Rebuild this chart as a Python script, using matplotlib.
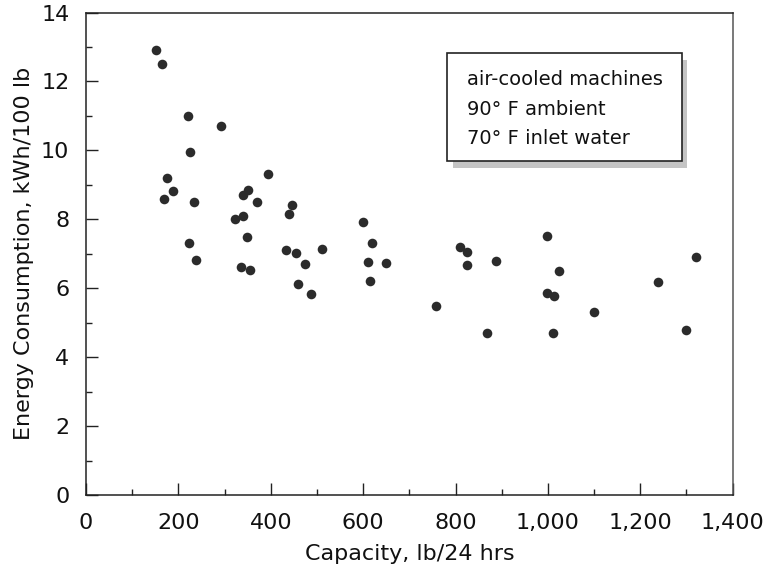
import matplotlib
matplotlib.use("Agg")
import matplotlib.pyplot as plt
from matplotlib.patches import Rectangle
from matplotlib.ticker import MultipleLocator

plt.rcParams['font.family'] = ['DejaVu Sans']

# capacity (lb/24 hrs) and energy use (kWh/100 lb)
capacity = [151, 164, 221, 292, 226, 175, 189, 169, 234, 394,
            339, 350, 371, 323, 339, 446, 439, 349, 224, 239,
            335, 354, 434, 454, 475, 511, 459, 487, 599, 619,
            610, 649, 614, 757, 809, 824, 825, 888, 869, 999,
            1024, 998, 1013, 1010, 1099, 1239, 1320, 1300]
energy = [12.9, 12.5, 11.0, 10.7, 9.95, 9.2, 8.82, 8.6, 8.51, 9.33,
          8.7, 8.84, 8.51, 8.0, 8.11, 8.41, 8.16, 7.5, 7.31, 6.81,
          6.61, 6.52, 7.1, 7.01, 6.71, 7.13, 6.11, 5.83, 7.93, 7.31,
          6.77, 6.72, 6.21, 5.5, 7.2, 7.04, 6.67, 6.78, 4.71, 7.51,
          6.51, 5.85, 5.78, 4.71, 5.31, 6.17, 6.91, 4.8]

xticks = [0, 200, 400, 600, 800, 1000, 1200, 1400]
xtick_labels = ["0", "200", "400", "600", "800", "1,000", "1,200", "1,400"]
yticks = [0, 2, 4, 6, 8, 10, 12, 14]
note_lines = ["air-cooled machines", "90\u00b0 F ambient", "70\u00b0 F inlet water"]

fig = plt.figure(figsize=(7.68, 5.71), dpi=100)
ax = fig.add_axes([0.112, 0.133, 0.842, 0.845])

ax.scatter(capacity, energy, s=48, color="#2b2b2b", zorder=3, linewidths=0)

ax.set_xlim(0, 1400)
ax.set_ylim(0, 14)
ax.set_xticks(xticks)
ax.set_xticklabels(xtick_labels)
ax.set_yticks(yticks)
ax.xaxis.set_minor_locator(MultipleLocator(100))
ax.yaxis.set_minor_locator(MultipleLocator(1))
ax.tick_params(which="major", direction="in", length=8.5, width=1, labelsize=16,
               top=False, right=False, color="#222222", labelcolor="#111111")
ax.tick_params(which="minor", direction="in", length=4.3, width=1,
               top=False, right=False, color="#222222")
ax.tick_params(axis="x", pad=13)
ax.tick_params(axis="y", pad=12)
for sp in ax.spines.values():
    sp.set_linewidth(1.1)
    sp.set_color("#222222")
ax.spines["right"].set_color("#555555")

ax.set_xlabel("Capacity, lb/24 hrs", fontsize=16, labelpad=8, color="#111111")
ax.set_ylabel("Energy Consumption, kWh/100 lb", fontsize=16, labelpad=5,
              color="#111111")

# note box with drop shadow
bx, by, bw, bh = 0.558, 0.692, 0.363, 0.224
ax.add_patch(Rectangle((bx + 0.009, by - 0.014), bw, bh, transform=ax.transAxes,
                       facecolor="#c4c4c4", edgecolor="none", zorder=4))
ax.add_patch(Rectangle((bx, by), bw, bh, transform=ax.transAxes,
                       facecolor="white", edgecolor="#222222", linewidth=1.2, zorder=5))
for i, line in enumerate(note_lines):
    ax.text(bx + 0.031, by + bh - 0.055 - i * 0.061, line, transform=ax.transAxes,
            fontsize=14, va="center", ha="left", zorder=6, color="#111111")

fig.savefig("out.png", dpi=100)
